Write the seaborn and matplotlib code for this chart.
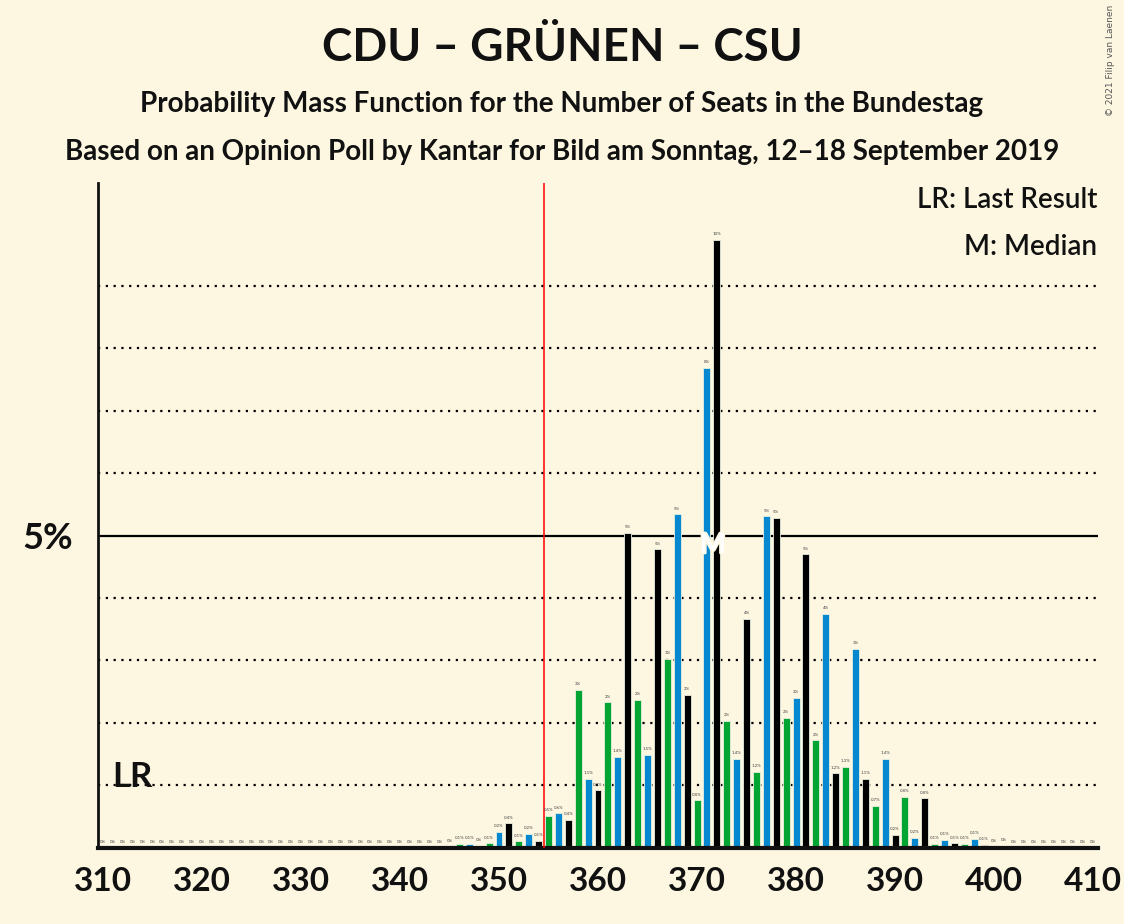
import matplotlib
matplotlib.use("Agg")
import matplotlib.pyplot as plt
import matplotlib.patheffects as pe
import seaborn as sns
import pandas as pd

seats = list(range(310, 411))
probs = ([0.0] * 35 +
         [0.02, 0.06, 0.06, 0.03, 0.07, 0.25, 0.39, 0.10, 0.22, 0.11,
          0.51, 0.55, 0.44, 2.53, 1.10, 0.92, 2.33, 1.45, 5.04, 2.37,
          1.49, 4.78, 3.02, 5.34, 2.45, 0.76, 7.69, 9.74, 2.03, 1.42,
          3.67, 1.21, 5.31, 5.28, 2.08, 2.40, 4.70, 1.72, 3.75, 1.19,
          1.30, 3.18, 1.10, 0.67, 1.42, 0.20, 0.81, 0.16, 0.79, 0.06,
          0.13, 0.07, 0.06, 0.14, 0.05, 0.01, 0.03] +
         [0.0] * 9)
color_cycle = ["black", "green", "blue"]
palette = {"black": "#000000", "green": "#03A532", "blue": "#0588D0"}

last_result = 313
median = 372
majority = 355
xticks = [310, 320, 330, 340, 350, 360, 370, 380, 390, 400, 410]

title = "CDU – GRÜNEN – CSU"
subtitle1 = "Probability Mass Function for the Number of Seats in the Bundestag"
subtitle2 = "Based on an Opinion Poll by Kantar for Bild am Sonntag, 12–18 September 2019"

bg = "#FDF7E1"

df = pd.DataFrame({"seats": seats, "prob": probs})
df["grp"] = [color_cycle[s % 3] for s in seats]

sns.set_style("white")
plt.rcParams["font.family"] = ["Lato", "DejaVu Sans"]

fig = plt.figure(figsize=(11.24, 9.24), dpi=100, facecolor=bg)
ax = fig.add_axes([0.0872, 0.0826, 0.8897, 0.7193])
ax.set_facecolor(bg)

# grid lines
for v in [1, 2, 3, 4, 6, 7, 8, 9]:
    ax.axhline(v, color="black", linestyle=(0, (1, 2.5)), linewidth=1.6, zorder=0)
ax.axhline(5, color="black", linewidth=1.6, zorder=0)

sns.barplot(data=df, x="seats", y="prob", hue="grp", palette=palette,
            native_scale=True, dodge=False, width=0.7, legend=False,
            saturation=1, linewidth=0.6, edgecolor="#E8F0E0", ax=ax, zorder=2)

ax.axvline(majority - 0.5, color="red", linewidth=1.1, zorder=3)


def fmt(v):
    if v < 0.05:
        return "0%"
    if v < 1.5:
        return f"{v:.1f}%"
    return f"{v:.0f}%"


for s, p in zip(seats, probs):
    ax.text(s, p + 0.06, fmt(p), ha="center", va="bottom", fontsize=3.2,
            color="#444444", zorder=4)

ax.text(median - 0.4, 4.85, "M", ha="center", va="center", color="white",
        fontsize=20, fontweight="bold", zorder=5,
        path_effects=[pe.withStroke(linewidth=2, foreground=bg)])
ax.text(last_result, 1.13, "LR", ha="center", va="center", fontsize=25,
        fontweight="bold", color="#111111", zorder=5)

ax.text(410.4, 10.38, "LR: Last Result", ha="right", va="center",
        fontsize=20, fontweight="semibold", color="#111111")
ax.text(410.4, 9.62, "M: Median", ha="right", va="center",
        fontsize=20, fontweight="semibold", color="#111111")

ax.set_xlim(309.5, 410.5)
ax.set_ylim(0, 10.65)
ax.set_xticks(xticks)
ax.set_xticklabels([str(t) for t in xticks], fontsize=24, fontweight="bold")
ax.set_yticks([5])
ax.set_yticklabels(["5%"], fontsize=26, fontweight="bold")
ax.tick_params(axis="both", length=0, pad=14, colors="#111111")
ax.tick_params(axis="y", pad=18)
ax.set_xlabel("")
ax.set_ylabel("")
for side in ["top", "right"]:
    ax.spines[side].set_visible(False)
ax.spines["left"].set_color("#111111")
ax.spines["left"].set_linewidth(2)
ax.spines["bottom"].set_color("#111111")
ax.spines["bottom"].set_linewidth(3)

fig.text(0.5, 0.948, title, ha="center", va="center", fontsize=33,
         fontweight="bold", color="#111111")
fig.text(0.5, 0.887, subtitle1, ha="center", va="center", fontsize=20,
         fontweight="bold", color="#111111")
fig.text(0.5, 0.835, subtitle2, ha="center", va="center", fontsize=20,
         fontweight="bold", color="#111111")
fig.text(0.988, 0.995, "© 2021 Filip van Laenen", ha="center", va="top",
         rotation=90, fontsize=6.5, color="#555555", family="DejaVu Sans")

fig.savefig("out.png", dpi=100, facecolor=bg)
